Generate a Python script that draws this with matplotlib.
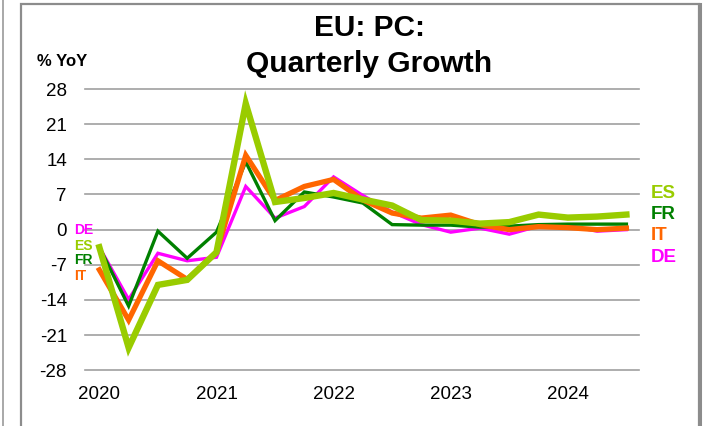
import matplotlib
matplotlib.use("Agg")
import matplotlib.pyplot as plt
from matplotlib.patches import Rectangle
from matplotlib.lines import Line2D

plt.rcParams['font.family'] = ['Liberation Sans', 'DejaVu Sans']

# Data: quarterly, 2020Q1 .. 2024Q3
years = ["2020", "2021", "2022", "2023", "2024"]
es = [-3.5, -23.5, -11.0, -10.0, -4.5, 25.1, 5.5, 6.3, 7.3, 6.0, 4.8, 1.9, 1.8, 1.2, 1.5, 3.0, 2.4, 2.6, 3.0]
fr = [-3.5, -15.2, -0.3, -5.7, -0.5, 13.5, 1.8, 7.5, 6.5, 5.3, 1.0, 0.9, 0.9, 0.5, 0.7, 1.0, 1.1, 1.1, 1.1]
it = [-8.0, -18.0, -6.2, -9.9, -4.5, 14.8, 5.8, 8.6, 10.0, 5.9, 3.3, 2.3, 2.9, 1.0, 0.0, 0.6, 0.4, 0.0, 0.3]
de = [-3.5, -13.9, -4.7, -6.2, -5.5, 8.6, 2.3, 4.6, 10.5, 6.8, 3.5, 1.0, -0.5, 0.3, -0.9, 0.7, 0.8, -0.3, 0.0]
yticks = [28, 21, 14, 7, 0, -7, -14, -21, -28]

x = list(range(len(es)))

W, H = 705, 426
fig = plt.figure(figsize=(W / 100, H / 100), dpi=100)

# frame
fig.patches.append(Rectangle((21 / W, -0.05), (699 - 21) / W, (1 - 4 / H) + 0.05,
                             transform=fig.transFigure, fill=False,
                             edgecolor="#8c8c8c", linewidth=1.6))
fig.lines.append(Line2D([699.5 / W, 699.5 / W], [0, 1 - 4 / H], transform=fig.transFigure,
                        color="#8c8c8c", linewidth=2.2))
fig.lines.append(Line2D([2.5 / W, 2.5 / W], [0, 1], transform=fig.transFigure,
                        color="#9a9a9a", linewidth=1.2))

ax = fig.add_axes([85 / W, 1 - 370.3 / H, (639 - 85) / W, (370.3 - 89) / H])
ax.set_xlim(-0.49, 18.43)
ax.set_ylim(-28, 28)

for v in yticks:
    ax.axhline(v, color="#a0a0a0", linewidth=1.2, clip_on=False, zorder=1)

ax.plot(x, de, color="#ff00ff", linewidth=2.4, zorder=2, solid_joinstyle="miter")
ax.plot(x, fr, color="#008000", linewidth=2.4, zorder=3, solid_joinstyle="miter")
ax.plot(x, it, color="#ff6600", linewidth=3.8, zorder=4, solid_joinstyle="miter")
ax.plot(x, es, color="#99cc00", linewidth=4.6, zorder=5, solid_joinstyle="miter")

ax.set_yticks(yticks)
ax.set_yticklabels([str(v) for v in yticks], fontsize=13.5)
ax.set_xticks([0, 4, 8, 12, 16])
ax.set_xticklabels(years, fontsize=13.5)
ax.tick_params(axis="y", length=0, pad=13)
ax.tick_params(axis="x", length=0, pad=11)
for s in ax.spines.values():
    s.set_visible(False)
ax.patch.set_alpha(0)

# title and unit
fig.text(369 / W, 1 - 27.5 / H, "EU: PC:", ha="center", va="center",
         fontsize=21.5, fontweight="bold")
fig.text(369 / W, 1 - 64.5 / H, "Quarterly Growth", ha="center", va="center",
         fontsize=21.5, fontweight="bold")
fig.text(37 / W, 1 - 62 / H, "% YoY", ha="left", va="center",
         fontsize=12, fontweight="bold")

# series labels, left
left_lbl = [("DE", "#ff00ff", 230.5), ("ES", "#99cc00", 245.5),
            ("FR", "#008000", 260), ("IT", "#ff6600", 276)]
for name, col, yy in left_lbl:
    fig.text(74.5 / W, 1 - yy / H, name, color=col, fontsize=10,
             fontweight="bold", ha="left", va="center")

# series labels, right
right_lbl = [("ES", "#99cc00", 193), ("FR", "#008000", 214.5),
             ("IT", "#ff6600", 236), ("DE", "#ff00ff", 257)]
for name, col, yy in right_lbl:
    fig.text(651 / W, 1 - yy / H, name, color=col, fontsize=13.5,
             fontweight="bold", ha="left", va="center")

fig.savefig("out.png", dpi=100)
